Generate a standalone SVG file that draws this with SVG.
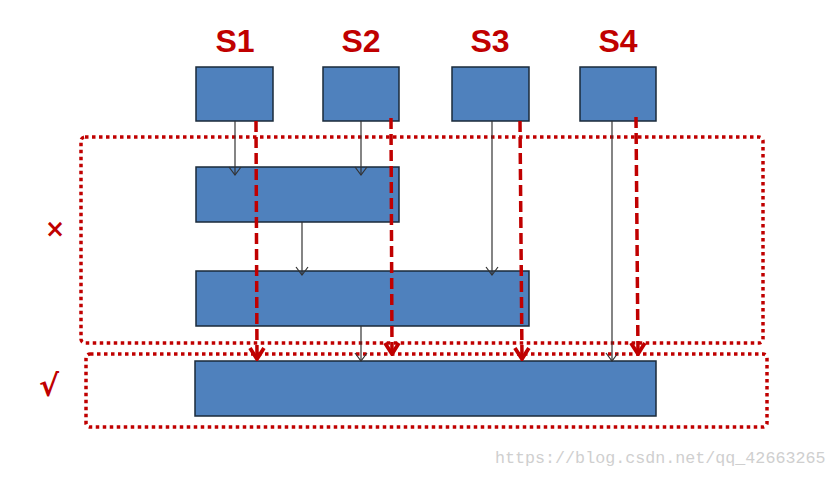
<svg xmlns="http://www.w3.org/2000/svg" width="835" height="477" viewBox="0 0 835 477">
<style>
.box{fill:#4F81BD;stroke:#1a2a3a;stroke-width:1.5}
.lbl{font-family:"Liberation Sans",Arial,sans-serif;font-weight:bold;font-size:32px;fill:#C00000;text-anchor:middle}
.zone{fill:none;stroke:#C00000;stroke-width:3.5;stroke-dasharray:3.5 3.5}
.thin{fill:none;stroke:#333;stroke-width:1.2}
.red{fill:none;stroke:#C00000;stroke-width:3.5;stroke-dasharray:11 5}
.mark{font-family:"DejaVu Sans",sans-serif;font-weight:bold;fill:#C00000;text-anchor:middle}
.wm{font-family:"Liberation Mono","DejaVu Sans Mono",monospace;font-size:16.7px;fill:#cfcfcf}
</style>
<defs>
<marker id="ah" viewBox="0 0 12 14" refX="11" refY="7" markerWidth="12" markerHeight="14" markerUnits="userSpaceOnUse" orient="auto">
<path d="M3,1 L11,7 L3,13" fill="none" stroke="#333" stroke-width="1.2"/>
</marker>
<marker id="rh" viewBox="0 0 16 18" refX="15" refY="9" markerWidth="16" markerHeight="18" markerUnits="userSpaceOnUse" orient="auto">
<path d="M3,2 L14,9 L3,16" fill="none" stroke="#C00000" stroke-width="3.8"/>
</marker>
</defs>
<rect x="0" y="0" width="835" height="477" fill="#ffffff"/>
<g id="zone-x"><rect class="zone" x="81" y="137" width="682" height="206" rx="4"/><text class="mark" x="55" y="237" font-size="24">×</text></g>
<g id="zone-ok"><rect class="zone" x="86" y="354" width="681" height="73" rx="4"/><text class="mark" x="49" y="396" font-size="30">√</text></g>
<g id="s1"><text class="lbl" x="235" y="52">S1</text><rect class="box" x="196" y="67" width="77" height="54"/></g>
<g id="s2"><text class="lbl" x="361" y="52">S2</text><rect class="box" x="323" y="67" width="76" height="54"/></g>
<g id="s3"><text class="lbl" x="490" y="52">S3</text><rect class="box" x="452" y="67" width="77" height="54"/></g>
<g id="s4"><text class="lbl" x="618" y="52">S4</text><rect class="box" x="580" y="67" width="76" height="54"/></g>
<g id="m1"><rect class="box" x="196" y="167" width="203" height="55"/></g>
<g id="m2"><rect class="box" x="196" y="271" width="333" height="55"/></g>
<g id="bottom"><rect class="box" x="195" y="361" width="461" height="55"/></g>
<g id="connectors">
<line class="thin" x1="235" y1="121" x2="235" y2="175" marker-end="url(#ah)"/>
<line class="thin" x1="361" y1="121" x2="361" y2="175" marker-end="url(#ah)"/>
<line class="thin" x1="302" y1="222" x2="302" y2="275" marker-end="url(#ah)"/>
<line class="thin" x1="492" y1="121" x2="492" y2="275" marker-end="url(#ah)"/>
<line class="thin" x1="361" y1="326" x2="361" y2="361" marker-end="url(#ah)"/>
<line class="thin" x1="612" y1="121" x2="612" y2="361" marker-end="url(#ah)"/>
<line class="red" x1="256" y1="121" x2="257" y2="360" marker-end="url(#rh)"/>
<line class="red" x1="391" y1="118" x2="392" y2="355" marker-end="url(#rh)"/>
<line class="red" x1="520" y1="121" x2="522" y2="360" marker-end="url(#rh)"/>
<line class="red" x1="636" y1="117" x2="638" y2="355" marker-end="url(#rh)"/>
</g>
<text class="wm" x="495" y="463">https://blog.csdn.net/qq_42663265</text>
</svg>
